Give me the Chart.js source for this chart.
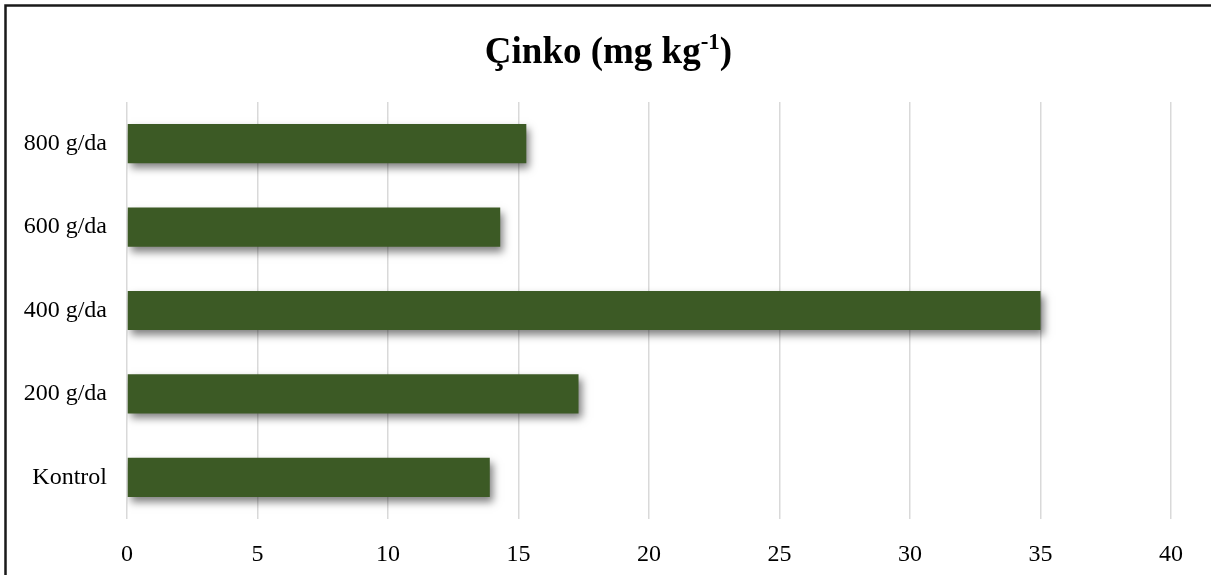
<!DOCTYPE html>
<html>
<head>
<meta charset="utf-8">
<style>
  html, body { margin: 0; padding: 0; background: #ffffff; }
  #wrap { width: 1211px; height: 575px; position: relative; }
</style>
<script src="https://cdn.jsdelivr.net/npm/chart.js@4.4.1/dist/chart.umd.min.js"></script>
</head>
<body>
<div id="wrap"><canvas id="chart" width="1211" height="575"></canvas></div>
<script>
// Zinc content per dose (mg kg-1), listed top to bottom
const categories = ['800 g/da', '600 g/da', '400 g/da', '200 g/da', 'Kontrol'];
const zincValues = [15.3, 14.3, 35.0, 17.3, 13.9];
const xTicks = [0, 5, 10, 15, 20, 25, 30, 35, 40];

const titleMain = 'Çinko (mg kg';
const titleSup = '-1';
const titleEnd = ')';

const serif = '"Liberation Serif", "Times New Roman", serif';

// Title with a superscript exponent, plus the left/top frame lines
const decorPlugin = {
  id: 'decor',
  afterDraw(chart) {
    const ctx = chart.ctx;
    ctx.save();
    ctx.strokeStyle = '#1a1a1a';
    ctx.lineWidth = 2.5;
    ctx.beginPath();
    ctx.moveTo(5.5, 575);
    ctx.lineTo(5.5, 5.5);
    ctx.lineTo(1211, 5.5);
    ctx.stroke();

    const big = 'bold 37px ' + serif;
    const small = 'bold 23px ' + serif;
    ctx.fillStyle = '#000000';
    ctx.textBaseline = 'alphabetic';
    ctx.font = big;
    const w1 = ctx.measureText(titleMain).width;
    const w3 = ctx.measureText(titleEnd).width;
    ctx.font = small;
    const w2 = ctx.measureText(titleSup).width;
    const total = w1 + w2 + w3;
    let x = chart.width / 2 - total / 2 + 3;
    const baseY = 63;
    ctx.font = big;
    ctx.fillText(titleMain, x, baseY);
    x += w1;
    ctx.font = small;
    ctx.fillText(titleSup, x, baseY - 14);
    x += w2;
    ctx.font = big;
    ctx.fillText(titleEnd, x, baseY);
    ctx.restore();
  }
};

// Soft drop shadow under the bars
const shadowPlugin = {
  id: 'barShadow',
  beforeDatasetsDraw(chart) {
    const ctx = chart.ctx;
    ctx.save();
    ctx.shadowColor = 'rgba(0,0,0,0.5)';
    ctx.shadowBlur = 8;
    ctx.shadowOffsetX = 3;
    ctx.shadowOffsetY = 5;
  },
  afterDatasetsDraw(chart) {
    chart.ctx.restore();
  }
};

new Chart(document.getElementById('chart'), {
  type: 'bar',
  data: {
    labels: categories,
    datasets: [{
      label: 'Çinko',
      data: zincValues,
      backgroundColor: '#3c5a25',
      borderWidth: 0,
      categoryPercentage: 1.0,
      barPercentage: 0.47
    }]
  },
  options: {
    indexAxis: 'y',
    responsive: false,
    animation: false,
    layout: { padding: { left: 0, right: 40, top: 102, bottom: 0 } },
    plugins: {
      legend: { display: false },
      title: { display: false },
      tooltip: { enabled: false }
    },
    scales: {
      x: {
        min: 0,
        max: 40,
        afterBuildTicks(scale) {
          scale.ticks = xTicks.map(v => ({ value: v }));
        },
        afterFit(scale) { scale.height = 56; },
        grid: { color: '#d9d9d9', lineWidth: 1.5, drawTicks: false },
        border: { display: false },
        ticks: {
          padding: 21,
          color: '#000000',
          font: { family: serif, size: 24 }
        }
      },
      y: {
        afterFit(scale) { scale.width = 127; },
        grid: { display: false, drawTicks: false },
        border: { display: false },
        ticks: {
          padding: 20,
          color: '#000000',
          font: { family: serif, size: 24 }
        }
      }
    }
  },
  plugins: [shadowPlugin, decorPlugin]
});
</script>
</body>
</html>
